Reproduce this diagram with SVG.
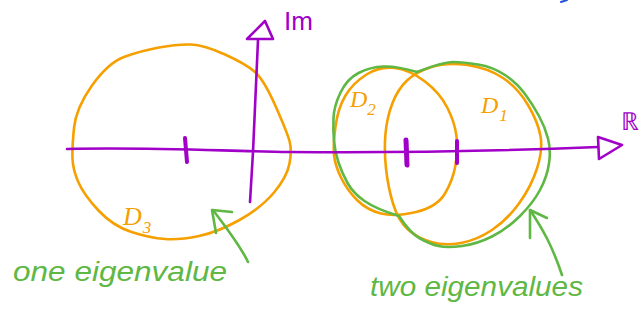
<svg xmlns="http://www.w3.org/2000/svg" width="644" height="320" viewBox="0 0 644 320">
<style>
.o{fill:none;stroke:#f5a000;stroke-width:2.6;stroke-linecap:round;stroke-linejoin:round}
.g{fill:none;stroke:#5fb843;stroke-width:2.6;stroke-linecap:round;stroke-linejoin:round}
.p{fill:none;stroke:#a000c8;stroke-width:2.6;stroke-linecap:round;stroke-linejoin:round}
.tick{fill:none;stroke:#a000c8;stroke-width:4;stroke-linecap:round}
.lo{fill:#f5a000;font-family:"Liberation Serif",serif;font-style:italic}
.lg{fill:#5fb843;font-family:"Liberation Sans",sans-serif;font-style:italic}
.lp{fill:#a000c8;font-family:"Liberation Sans",sans-serif}
</style>
<rect width="644" height="320" fill="#ffffff"/>
<path d="M561,2 L567,0" stroke="#2050e0" stroke-width="2" fill="none" stroke-linecap="round"/>
<g id="D3">
  <path class="o" d="M72.5,159 Q73,170 78.5,182.5 Q84,195 98.5,210.5 Q113,226 131.5,232 Q150,238 165,239 Q180,240 199,236 Q218,232 239.5,220 Q261,208 274,192.5 Q287,177 289.5,163.5 Q292,150 289.5,141 Q287,132 275.5,106 Q264,80 255,72 Q246,64 225,54.5 Q204,45 191,44.5 Q178,44 159,47.5 Q140,51 124,57 Q108,63 92,85.5 Q76,108 74,128 Q72,148 72.5,159 Z"/>
  <text class="lo" x="123" y="225" font-size="26">D<tspan font-size="17" dx="1" dy="8">3</tspan></text>
</g>
<g id="D2">
  <path class="o" d="M334,155 Q335,165 341,177.5 Q347,190 357,200 Q367,210 381,213.5 Q395,217 416,212 Q437,207 445,193.5 Q453,180 455.5,165 Q458,150 456.5,136.5 Q455,123 447.5,108 Q440,93 425,81.5 Q410,70 395,68 Q380,66 366.5,74.5 Q353,83 345.5,95.5 Q338,108 335.5,126.5 Q333,145 334,155 Z"/>
  <text class="lo" x="350" y="107" font-size="24">D<tspan font-size="17" dx="0" dy="8">2</tspan></text>
</g>
<g id="D1">
  <path class="o" d="M386,168.5 Q388,187 393,203.5 Q398,220 407.5,229 Q417,238 431,242 Q445,246 461,243 Q477,240 492,230 Q507,220 519,203.5 Q531,187 537,168.5 Q543,150 540.5,136 Q538,122 528,105 Q518,88 503,78 Q488,68 467.5,65 Q447,62 431.5,67 Q416,72 407,80.5 Q398,89 392.5,103 Q387,117 385.5,133.5 Q384,150 386,168.5 Z"/>
  <text class="lo" x="481" y="113" font-size="24">D<tspan font-size="17" dx="1" dy="8">1</tspan></text>
</g>
<g id="union-outline">
  <path class="g" d="M417,72 Q397,66 383.5,66.5 Q370,67 358.5,73 Q347,79 340.5,92.5 Q334,106 333.5,118 Q333,130 334,141 Q335,152 338.5,162.5 Q342,173 347.5,183 Q353,193 364.5,201 Q376,209 399,216"/>
  <path class="g" d="M399,216 Q410,233 420,238.5 Q430,244 438.5,246 Q447,248 462,246 Q477,244 492,236.5 Q507,229 520,216 Q533,203 540,190 Q547,177 549,163.5 Q551,150 548,138.5 Q545,127 539,116 Q533,105 525,94 Q517,83 505,75 Q493,67 478,64.5 Q463,62 453,62 Q443,62 417,72"/>
</g>
<g id="connectors">
  <g id="real-axis">
    <path class="p" d="M67,149 C150,147 220,151 290,152 C400,153 500,151 598,147"/>
    <path class="p" d="M598,137 L622,145 L599,159 Z"/>
    <path class="tick" d="M185,138 L187,162"/>
    <path class="tick" d="M406,140 L407,165" style="stroke-width:5"/>
    <path class="tick" d="M457,141 L457,163"/>
  </g>
  <g id="imag-axis">
    <path class="p" d="M250,202 L253,152 L258,40"/>
    <path class="p" d="M247,39 L265,21 L273,39 Z"/>
  </g>
  <g id="arrow-one">
    <path class="g" d="M248,262 C240,245 228,230 213,210"/>
    <path class="g" d="M216,233 L212,210 L232,212"/>
  </g>
  <g id="arrow-two">
    <path class="g" d="M530,210 C542,228 552,245 562,275"/>
    <path class="g" d="M530,238 L530,210 L547,218"/>
  </g>
</g>
<g id="label-im"><text class="lp" x="284" y="30" font-size="26">Im</text></g>
<g id="label-re"><text class="lp" x="621" y="130" font-size="25" font-family="DejaVu Sans, sans-serif">ℝ</text></g>
<g id="label-one"><text class="lg" x="13" y="281" font-size="27" textLength="214" lengthAdjust="spacingAndGlyphs">one eigenvalue</text></g>
<g id="label-two"><text class="lg" x="370" y="296" font-size="27" textLength="213" lengthAdjust="spacingAndGlyphs">two eigenvalues</text></g>
</svg>
